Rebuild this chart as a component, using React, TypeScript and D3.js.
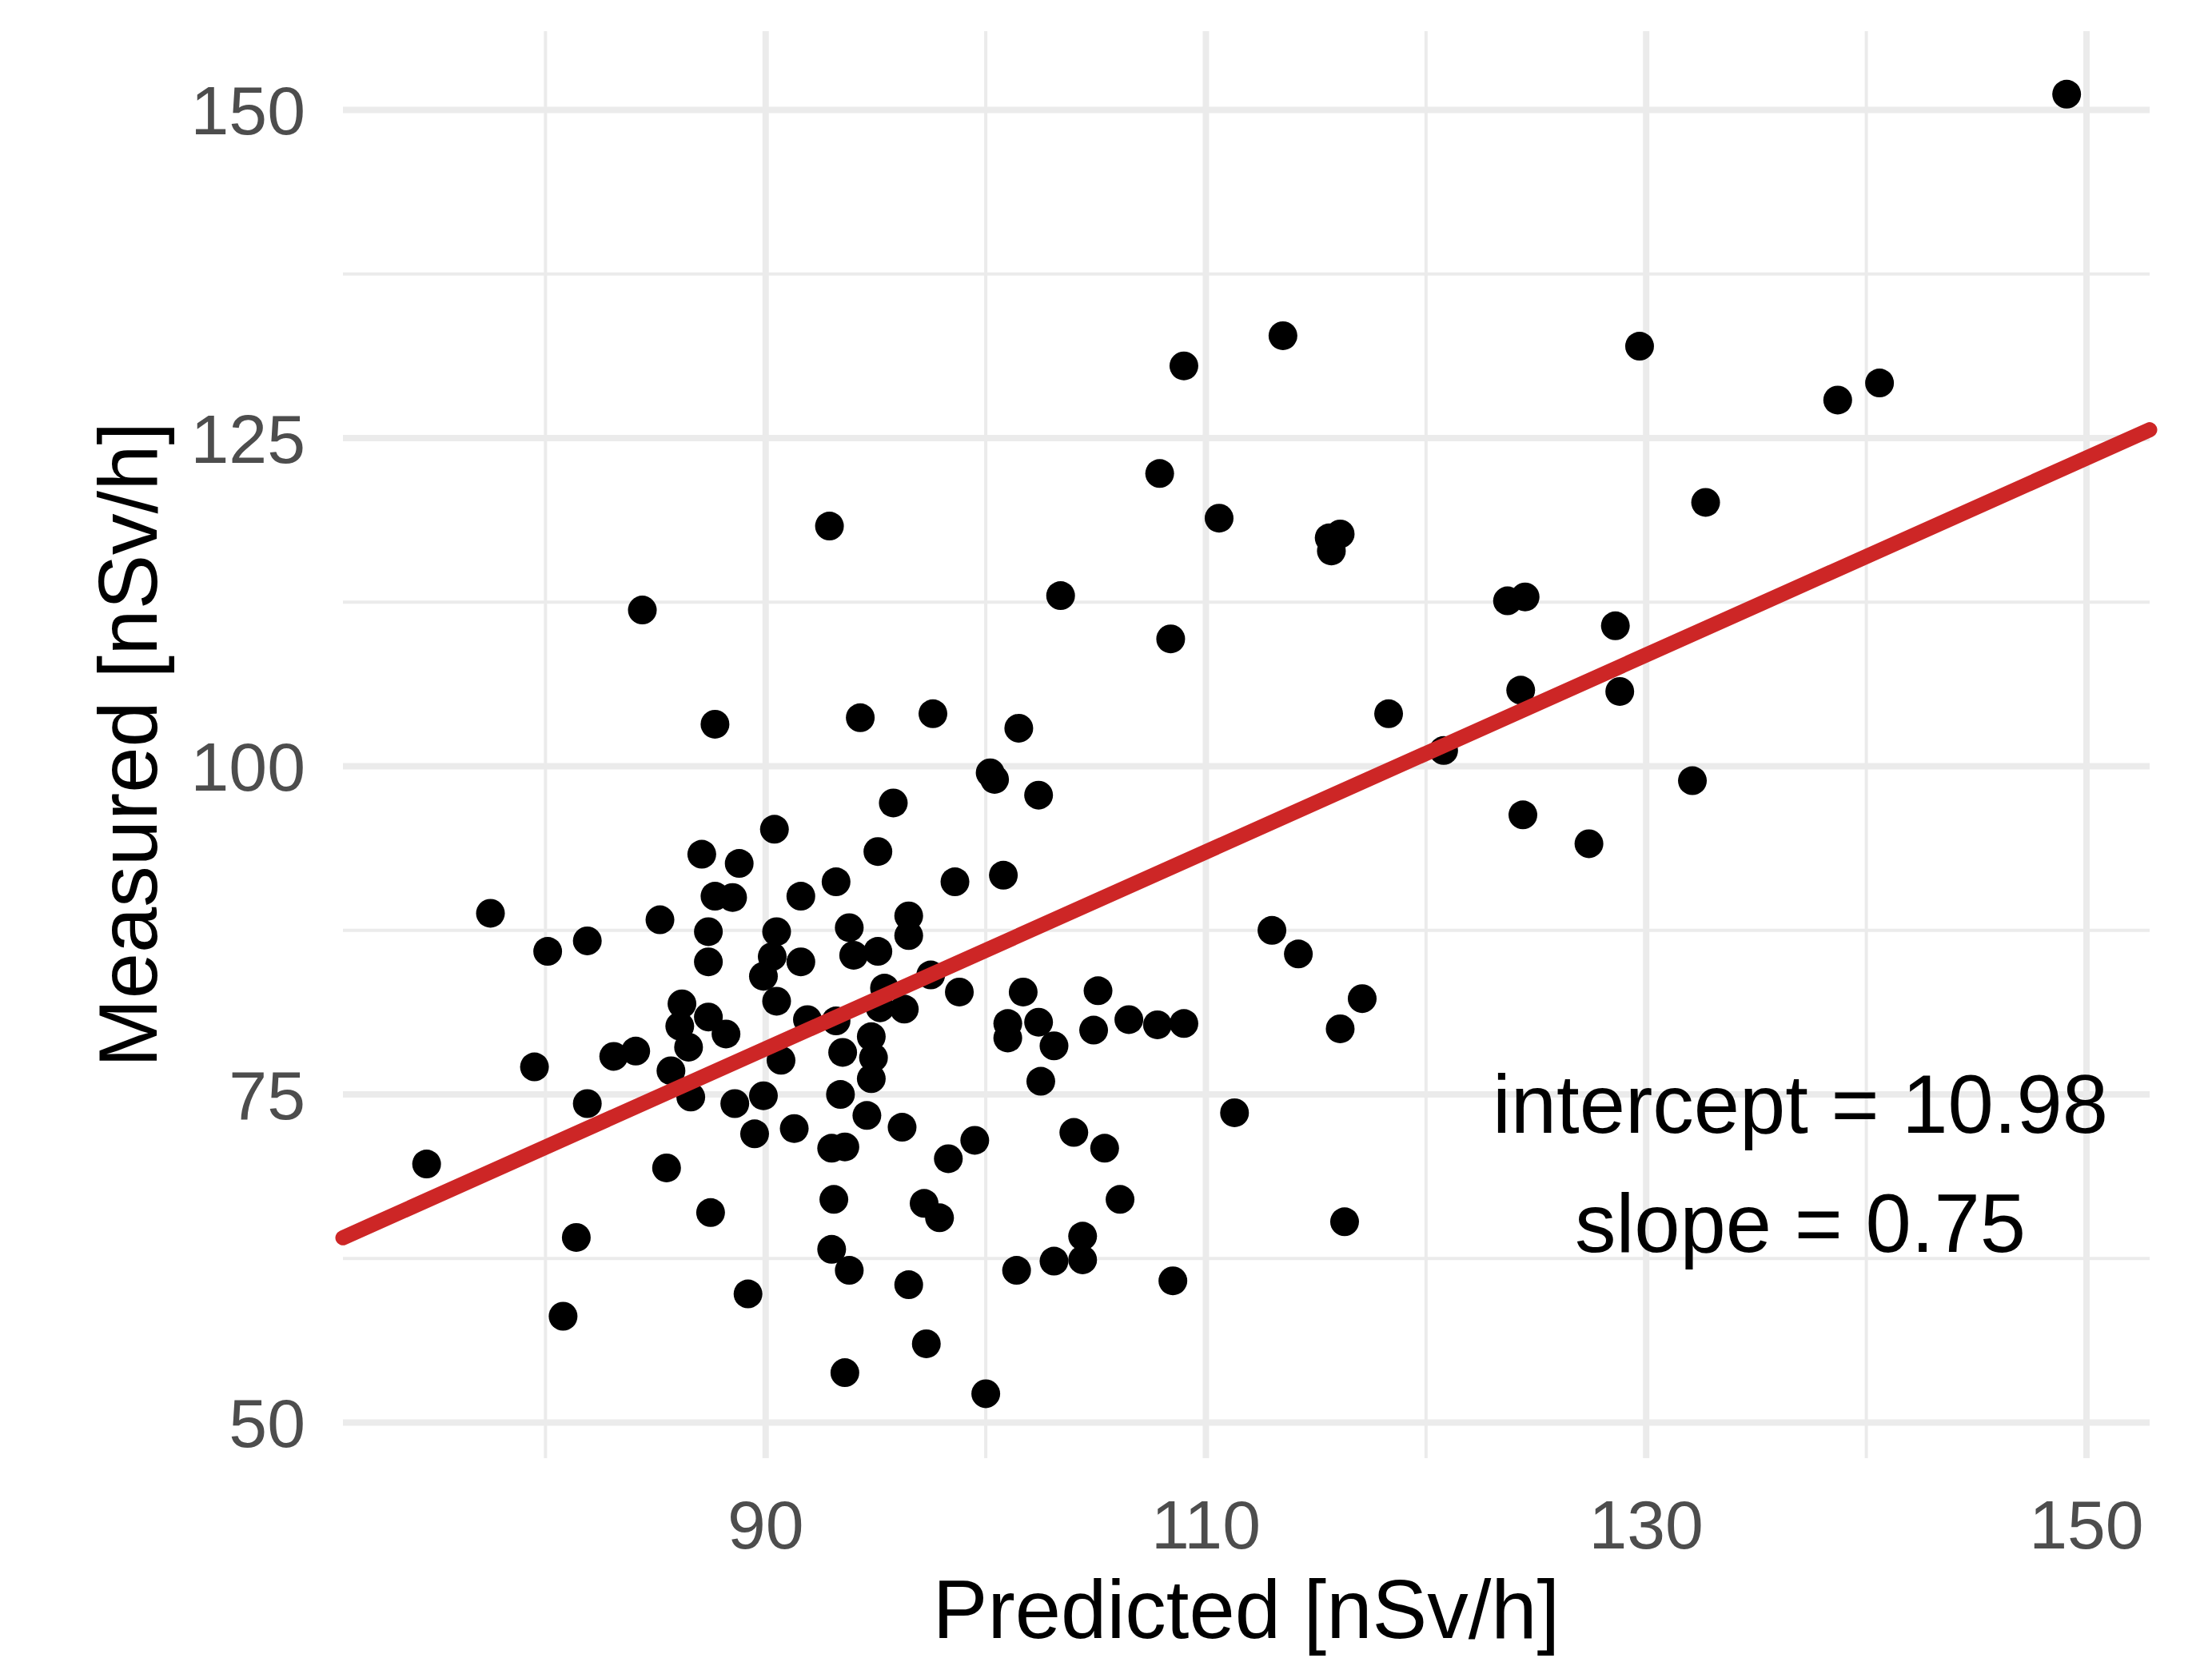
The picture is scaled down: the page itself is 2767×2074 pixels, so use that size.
import React from "react";
import * as d3 from "d3";

// ---- data ----
const predicted = [
  149.1, 113.5, 129.7, 109.0, 140.6, 138.7, 107.9, 132.7, 110.6, 92.9,
  115.6, 116.1, 115.7, 103.4, 84.4, 123.7, 124.5, 128.6, 108.4, 124.3,
  128.8, 118.3, 87.7, 94.3, 97.6, 101.5, 120.8, 100.2, 100.4, 132.1,
  102.4, 95.8, 124.4, 90.4, 127.4, 95.1, 87.1, 88.8, 93.2, 98.6,
  100.8, 91.6, 87.7, 88.5, 77.5, 85.2, 96.5, 96.5, 93.8, 90.5,
  87.4, 81.9, 80.1, 113.0, 114.2, 87.4, 91.6, 90.3, 94.0, 95.1,
  89.9, 97.5, 95.4, 98.8, 101.7, 105.1, 117.1, 90.5, 96.3, 95.2,
  86.2, 87.4, 86.1, 91.9, 93.2, 101.0, 101.0, 102.4, 103.1, 106.5,
  107.8, 109.0, 104.9, 116.1, 88.2, 86.5, 94.8, 93.5, 94.9, 94.8,
  93.4, 90.7, 83.1, 84.1, 79.5, 85.7, 102.5, 89.9, 86.6, 88.6,
  81.9, 111.3, 94.6, 96.2, 91.3, 89.5, 104.0, 99.5, 105.4, 93.0,
  93.6, 74.6, 85.5, 98.3, 93.1, 97.2, 106.1, 87.5, 97.9, 116.3,
  81.4, 104.4, 93.0, 104.4, 103.1, 93.8, 101.4, 96.5, 108.5, 89.2,
  80.8, 97.3, 93.6, 100.0,
];
const measured = [
  151.2, 132.8, 132.0, 130.5, 129.2, 127.9, 122.3, 120.1, 118.9, 118.3,
  117.4, 117.7, 116.4, 113.0, 111.9, 112.6, 112.9, 110.7, 109.7, 105.8,
  105.7, 104.0, 103.2, 103.7, 104.0, 102.9, 101.2, 99.5, 99.0, 98.9,
  97.8, 97.2, 96.3, 95.2, 94.1, 93.5, 93.3, 92.6, 91.2, 91.2,
  91.7, 90.1, 90.1, 90.0, 88.8, 88.3, 88.6, 87.1, 87.7, 87.4,
  87.4, 86.7, 85.9, 87.5, 85.7, 85.1, 85.1, 85.5, 85.6, 85.9,
  84.0, 84.1, 83.1, 82.8, 82.8, 82.9, 82.3, 82.1, 81.5, 81.6,
  81.9, 80.9, 80.2, 80.7, 80.6, 80.4, 79.3, 80.5, 78.7, 80.7,
  80.3, 80.4, 79.9, 80.0, 79.6, 78.6, 79.4, 78.2, 77.8, 76.2,
  75.0, 77.6, 77.9, 78.3, 77.1, 76.8, 76.0, 74.9, 74.8, 74.3,
  74.3, 73.6, 73.4, 72.5, 72.4, 72.0, 72.1, 71.5, 70.9, 70.9,
  71.0, 69.7, 69.4, 70.1, 67.0, 66.7, 67.0, 66.0, 65.6, 65.3,
  64.1, 64.2, 63.2, 62.4, 62.3, 61.6, 61.6, 60.5, 60.8, 59.8,
  58.1, 56.0, 53.8, 52.2,
];

const xTicks = [90, 110, 130, 150];
const xMinor = [80, 100, 120, 140];
const yTicks = [50, 75, 100, 125, 150];
const yMinor = [62.5, 87.5, 112.5, 137.5];

const intercept = 10.98;
const slope = 0.75;
const annotationLines = ["intercept = 10.98", "slope = 0.75"];
const annotationAt = [137, 72.1];

const xTitle = "Predicted [nSv/h]";
const yTitle = "Measured [nSv/h]";

export default function App() {
  const W = 2767;
  const H = 2074;
  const left = 429, right = 2689, top = 39, bottom = 1824;
  const font = "'Liberation Sans', Arial, sans-serif";

  const x = d3.scaleLinear().domain([70.8, 152.87]).range([left, right]);
  const y = d3.scaleLinear().domain([47.29, 156.0]).range([bottom, top]);

  const [xd0, xd1] = x.domain();
  const linePath = d3.line<number>()
    .x((v) => x(v))
    .y((v) => y(intercept + slope * v))([xd0, xd1]);

  const tickSize = 86;
  const titleSize = 103;

  return (
    <svg
      width={W}
      height={H}
      viewBox={`0 0 ${W} ${H}`}
      style={{ position: "absolute", left: 0, top: 0, background: "#fff" }}
    >
      <rect x={0} y={0} width={W} height={H} fill="#fff" />
      {/* minor grid */}
      {xMinor.map((v) => (
        <line key={"xm" + v} x1={x(v)} x2={x(v)} y1={top} y2={bottom} stroke="#EBEBEB" strokeWidth={4} />
      ))}
      {yMinor.map((v) => (
        <line key={"ym" + v} x1={left} x2={right} y1={y(v)} y2={y(v)} stroke="#EBEBEB" strokeWidth={4} />
      ))}
      {/* major grid */}
      {xTicks.map((v) => (
        <line key={"xM" + v} x1={x(v)} x2={x(v)} y1={top} y2={bottom} stroke="#EBEBEB" strokeWidth={8} />
      ))}
      {yTicks.map((v) => (
        <line key={"yM" + v} x1={left} x2={right} y1={y(v)} y2={y(v)} stroke="#EBEBEB" strokeWidth={8} />
      ))}

      {/* points */}
      {predicted.map((p, i) => (
        <circle key={"p" + i} cx={x(p)} cy={y(measured[i])} r={18} fill="#000" />
      ))}

      {/* regression line */}
      <path d={linePath || ""} stroke="#CD2626" strokeWidth={19} fill="none" strokeLinecap="round" />

      {/* tick labels */}
      {xTicks.map((v) => (
        <text key={"xl" + v} x={x(v)} y={1937} textAnchor="middle" fontFamily={font} fontSize={tickSize} fill="#4D4D4D">
          {v}
        </text>
      ))}
      {yTicks.map((v) => (
        <text key={"yl" + v} x={382} y={y(v) + tickSize * 0.358} textAnchor="end" fontFamily={font} fontSize={tickSize} fill="#4D4D4D">
          {v}
        </text>
      ))}

      {/* axis titles */}
      <text x={(left + right) / 2} y={2049} textAnchor="middle" fontFamily={font} fontSize={titleSize} fill="#000">
        {xTitle}
      </text>
      <text
        transform={`translate(196, ${(top + bottom) / 2}) rotate(-90)`}
        textAnchor="middle"
        fontFamily={font}
        fontSize={titleSize}
        fill="#000"
      >
        {yTitle}
      </text>

      {/* annotation */}
      {annotationLines.map((t, i) => (
        <text
          key={"an" + i}
          x={x(annotationAt[0])}
          y={y(annotationAt[1]) + i * 149.5}
          textAnchor="middle"
          fontFamily={font}
          fontSize={titleSize}
          fill="#000"
        >
          {t}
        </text>
      ))}
    </svg>
  );
}
